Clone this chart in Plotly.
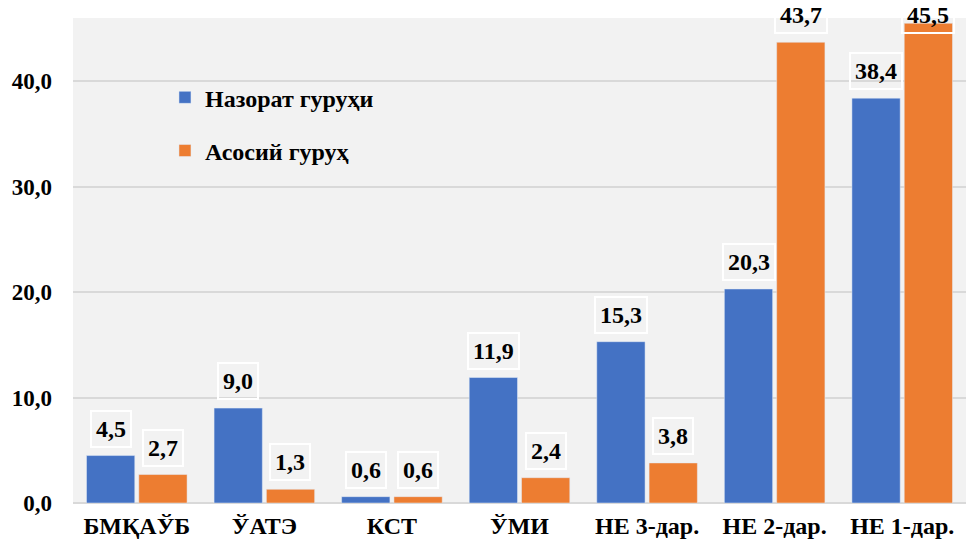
import plotly.graph_objects as go

categories = ["БМҚАЎБ", "ЎАТЭ", "КСТ", "ЎМИ", "НЕ 3-дар.", "НЕ 2-дар.", "НЕ 1-дар."]
control_group = [4.5, 9.0, 0.6, 11.9, 15.3, 20.3, 38.4]
main_group = [2.7, 1.3, 0.6, 2.4, 3.8, 43.7, 45.5]
series_names = ["Назорат гуруҳи", "Асосий гуруҳ"]
y_ticks = [0, 10, 20, 30, 40]
y_tick_text = ["0,0", "10,0", "20,0", "30,0", "40,0"]

BLUE = "#4472C4"
ORANGE = "#ED7D31"
BG = "#F2F2F2"
GRID = "#D9D9D9"
FONT = "Liberation Serif"
Y_MAX = 46

fig = go.Figure()
fig.add_trace(go.Bar(x=categories, y=control_group, name=f"<b>{series_names[0]}</b>",
                     marker=dict(color=BLUE), offsetgroup="a", legendgroup="a"))
fig.add_trace(go.Bar(x=categories, y=main_group, name=f"<b>{series_names[1]}</b>",
                     marker=dict(color=ORANGE), offsetgroup="b", legendgroup="b"))

def fmt(v):
    return f"{v:.1f}".replace(".", ",")

for idx, (vals, off) in enumerate([(control_group, -0.204), (main_group, 0.204)]):
    for i, v in enumerate(vals):
        shift = 8
        if v > 45:
            shift = -11
        fig.add_annotation(
            x=i + off, y=v, xref="x", yref="y",
            text=f"<b>{fmt(v)}</b>", showarrow=False,
            yanchor="bottom", xanchor="center", yshift=shift,
            font=dict(family=FONT, size=24, color="black"),
            bordercolor="white", borderwidth=2, borderpad=4,
            bgcolor="rgba(0,0,0,0)",
        )

fig.update_layout(
    width=971, height=546,
    margin=dict(l=73, r=5, t=18, b=43),
    paper_bgcolor="white", plot_bgcolor=BG,
    barmode="group", bargap=0.18, bargroupgap=0.077,
    font=dict(family=FONT, size=24, color="black"),
    showlegend=True,
    legend=dict(x=0.103, y=0.882, xanchor="left", yanchor="top",
                bgcolor="rgba(0,0,0,0)", tracegroupgap=19,
                font=dict(family=FONT, size=24, color="black"),
                traceorder="grouped"),
    xaxis=dict(type="category", showgrid=False, showline=False, ticks="",
               tickvals=categories, ticktext=[f"<b>{c}</b>" for c in categories],
               tickfont=dict(family=FONT, size=24, color="black"),
               ticklabelstandoff=6),
    yaxis=dict(range=[0, Y_MAX], tickvals=y_ticks,
               ticktext=[f"<b>{t}</b>" for t in y_tick_text],
               showgrid=True, gridcolor=GRID, gridwidth=2,
               zeroline=True, zerolinecolor=GRID, zerolinewidth=2,
               showline=False, ticks="",
               tickfont=dict(family=FONT, size=23, color="black"),
               ticklabelstandoff=20),
)

fig.write_html("out.html", config={"displayModeBar": False},
               post_script="document.body.style.margin='0';")
